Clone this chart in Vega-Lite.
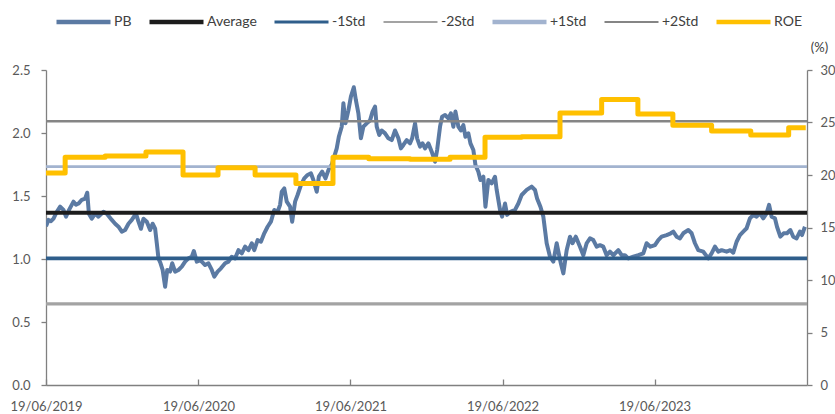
{
  "$schema": "https://vega.github.io/schema/vega-lite/v6.json",
  "width": 761,
  "height": 315,
  "autosize": {"type": "none"},
  "padding": {"left": 46, "top": 70, "right": 28, "bottom": 29},
  "background": "white",
  "config": {
    "view": {"stroke": null},
    "font": "Lato",
    "legend": {"title": null},
    "axis": {"labelFont": "Lato", "labelFontSize": 13, "labelColor": "#595959", "domainColor": "#808080", "tickColor": "#808080", "domainWidth": 1.3, "tickWidth": 1.3, "grid": false, "titleFont": "Lato"}
  },
  "datasets": {
    "pb": [
      {"d":"2019-06-19","pb":1.26},{"d":"2019-06-25","pb":1.31},{"d":"2019-07-01","pb":1.30},{"d":"2019-07-07","pb":1.32},{"d":"2019-07-15","pb":1.375},{"d":"2019-07-23","pb":1.415},{"d":"2019-07-31","pb":1.39},{"d":"2019-08-06","pb":1.336},{"d":"2019-08-14","pb":1.394},{"d":"2019-08-24","pb":1.455},{"d":"2019-08-30","pb":1.43},{"d":"2019-09-05","pb":1.44},{"d":"2019-09-13","pb":1.47},{"d":"2019-09-21","pb":1.48},{"d":"2019-09-26","pb":1.526},{"d":"2019-09-30","pb":1.36},{"d":"2019-10-07","pb":1.32},{"d":"2019-10-15","pb":1.36},{"d":"2019-10-23","pb":1.336},{"d":"2019-11-04","pb":1.375},{"d":"2019-11-12","pb":1.36},{"d":"2019-11-24","pb":1.31},{"d":"2019-12-02","pb":1.28},{"d":"2019-12-10","pb":1.256},{"d":"2019-12-18","pb":1.217},{"d":"2019-12-26","pb":1.23},
      {"d":"2020-01-03","pb":1.28},{"d":"2020-01-11","pb":1.31},{"d":"2020-01-21","pb":1.36},{"d":"2020-01-27","pb":1.296},{"d":"2020-02-02","pb":1.24},{"d":"2020-02-08","pb":1.32},{"d":"2020-02-16","pb":1.296},{"d":"2020-02-24","pb":1.23},{"d":"2020-03-01","pb":1.28},{"d":"2020-03-07","pb":1.24},{"d":"2020-03-11","pb":1.125},{"d":"2020-03-15","pb":1.005},{"d":"2020-03-20","pb":0.966},{"d":"2020-03-25","pb":0.913},{"d":"2020-03-31","pb":0.78},{"d":"2020-04-05","pb":0.913},{"d":"2020-04-12","pb":0.9},{"d":"2020-04-17","pb":0.966},{"d":"2020-04-24","pb":0.9},{"d":"2020-05-02","pb":0.913},{"d":"2020-05-10","pb":0.939},{"d":"2020-05-18","pb":0.979},{"d":"2020-05-26","pb":1.005},{"d":"2020-06-03","pb":1.018},{"d":"2020-06-08","pb":1.063},{"d":"2020-06-15","pb":0.979},{"d":"2020-06-23","pb":0.99},{"d":"2020-06-27","pb":0.979},{"d":"2020-07-05","pb":0.952},{"d":"2020-07-13","pb":0.966},{"d":"2020-07-21","pb":0.913},{"d":"2020-07-27","pb":0.86},{"d":"2020-08-04","pb":0.9},{"d":"2020-08-12","pb":0.926},{"d":"2020-08-22","pb":0.966},{"d":"2020-08-30","pb":0.979},{"d":"2020-09-07","pb":1.018},{"d":"2020-09-15","pb":1.005},{"d":"2020-09-23","pb":1.07},{"d":"2020-10-01","pb":1.045},{"d":"2020-10-09","pb":1.098},{"d":"2020-10-17","pb":1.07},{"d":"2020-10-25","pb":1.125},{"d":"2020-10-31","pb":1.07},{"d":"2020-11-08","pb":1.15},{"d":"2020-11-16","pb":1.137},{"d":"2020-11-24","pb":1.204},{"d":"2020-12-02","pb":1.256},{"d":"2020-12-10","pb":1.296},{"d":"2020-12-18","pb":1.389},{"d":"2020-12-26","pb":1.375},
      {"d":"2021-01-01","pb":1.43},{"d":"2021-01-05","pb":1.534},{"d":"2021-01-11","pb":1.56},{"d":"2021-01-17","pb":1.455},{"d":"2021-01-25","pb":1.415},{"d":"2021-01-30","pb":1.296},{"d":"2021-02-06","pb":1.455},{"d":"2021-02-12","pb":1.508},{"d":"2021-02-20","pb":1.587},{"d":"2021-02-28","pb":1.64},{"d":"2021-03-08","pb":1.667},{"d":"2021-03-16","pb":1.68},{"d":"2021-03-22","pb":1.627},{"d":"2021-03-30","pb":1.534},{"d":"2021-04-04","pb":1.653},{"d":"2021-04-12","pb":1.693},{"d":"2021-04-20","pb":1.64},{"d":"2021-04-27","pb":1.706},{"d":"2021-05-05","pb":1.75},{"d":"2021-05-11","pb":1.812},{"d":"2021-05-17","pb":1.878},{"d":"2021-05-22","pb":1.97},{"d":"2021-05-29","pb":2.05},{"d":"2021-06-02","pb":2.236},{"d":"2021-06-07","pb":2.077},{"d":"2021-06-14","pb":2.18},{"d":"2021-06-20","pb":2.288},{"d":"2021-06-27","pb":2.363},{"d":"2021-07-02","pb":2.26},{"d":"2021-07-08","pb":2.156},{"d":"2021-07-14","pb":1.958},{"d":"2021-07-20","pb":2.05},{"d":"2021-07-28","pb":2.077},{"d":"2021-08-05","pb":2.1},{"d":"2021-08-11","pb":2.17},{"d":"2021-08-17","pb":2.21},{"d":"2021-08-21","pb":2.05},{"d":"2021-08-27","pb":1.984},{"d":"2021-09-02","pb":2.02},{"d":"2021-09-10","pb":1.997},{"d":"2021-09-18","pb":1.958},{"d":"2021-09-26","pb":1.944},{"d":"2021-10-04","pb":2.02},{"d":"2021-10-12","pb":1.958},{"d":"2021-10-18","pb":1.878},{"d":"2021-10-24","pb":1.905},{"d":"2021-11-01","pb":1.944},{"d":"2021-11-09","pb":1.918},{"d":"2021-11-14","pb":1.958},{"d":"2021-11-21","pb":2.077},{"d":"2021-11-26","pb":1.958},{"d":"2021-12-03","pb":1.892},{"d":"2021-12-09","pb":1.918},{"d":"2021-12-15","pb":1.878},{"d":"2021-12-23","pb":1.918},{"d":"2021-12-31","pb":1.852},
      {"d":"2022-01-08","pb":1.772},{"d":"2022-01-13","pb":1.865},{"d":"2022-01-20","pb":2.05},{"d":"2022-01-25","pb":2.13},{"d":"2022-02-01","pb":2.143},{"d":"2022-02-09","pb":2.116},{"d":"2022-02-15","pb":2.156},{"d":"2022-02-21","pb":2.05},{"d":"2022-02-26","pb":2.17},{"d":"2022-03-05","pb":2.05},{"d":"2022-03-11","pb":2.02},{"d":"2022-03-17","pb":2.063},{"d":"2022-03-22","pb":1.97},{"d":"2022-03-29","pb":1.997},{"d":"2022-04-03","pb":1.918},{"d":"2022-04-10","pb":1.865},{"d":"2022-04-15","pb":1.746},{"d":"2022-04-22","pb":1.693},{"d":"2022-04-27","pb":1.627},{"d":"2022-05-04","pb":1.653},{"d":"2022-05-09","pb":1.415},{"d":"2022-05-16","pb":1.627},{"d":"2022-05-24","pb":1.6},{"d":"2022-06-01","pb":1.653},{"d":"2022-06-05","pb":1.548},{"d":"2022-06-13","pb":1.39},{"d":"2022-06-18","pb":1.336},{"d":"2022-06-25","pb":1.44},{"d":"2022-06-30","pb":1.35},{"d":"2022-07-08","pb":1.375},{"d":"2022-07-19","pb":1.39},{"d":"2022-07-27","pb":1.44},{"d":"2022-08-04","pb":1.508},{"d":"2022-08-16","pb":1.548},{"d":"2022-08-28","pb":1.574},{"d":"2022-09-05","pb":1.548},{"d":"2022-09-10","pb":1.48},{"d":"2022-09-18","pb":1.415},{"d":"2022-09-25","pb":1.336},{"d":"2022-10-03","pb":1.125},{"d":"2022-10-11","pb":1.018},{"d":"2022-10-19","pb":0.979},{"d":"2022-10-27","pb":1.125},{"d":"2022-11-01","pb":1.045},{"d":"2022-11-06","pb":0.966},{"d":"2022-11-12","pb":0.886},{"d":"2022-11-20","pb":1.07},{"d":"2022-11-28","pb":1.177},{"d":"2022-12-04","pb":1.125},{"d":"2022-12-12","pb":1.177},{"d":"2022-12-22","pb":1.098},{"d":"2022-12-30","pb":1.03},
      {"d":"2023-01-07","pb":1.125},{"d":"2023-01-15","pb":1.164},{"d":"2023-01-23","pb":1.15},{"d":"2023-01-31","pb":1.098},{"d":"2023-02-08","pb":1.11},{"d":"2023-02-16","pb":1.098},{"d":"2023-02-24","pb":1.03},{"d":"2023-03-04","pb":1.058},{"d":"2023-03-12","pb":1.03},{"d":"2023-03-24","pb":1.07},{"d":"2023-04-01","pb":1.03},{"d":"2023-04-09","pb":1.03},{"d":"2023-04-17","pb":1.005},{"d":"2023-04-29","pb":1.018},{"d":"2023-05-11","pb":1.03},{"d":"2023-05-23","pb":1.045},{"d":"2023-05-31","pb":1.125},{"d":"2023-06-09","pb":1.098},{"d":"2023-06-20","pb":1.11},{"d":"2023-06-28","pb":1.15},{"d":"2023-07-06","pb":1.177},{"d":"2023-07-18","pb":1.19},{"d":"2023-07-28","pb":1.204},{"d":"2023-08-03","pb":1.217},{"d":"2023-08-11","pb":1.177},{"d":"2023-08-19","pb":1.164},{"d":"2023-08-27","pb":1.204},{"d":"2023-09-08","pb":1.23},{"d":"2023-09-16","pb":1.204},{"d":"2023-09-24","pb":1.125},{"d":"2023-10-02","pb":1.07},{"d":"2023-10-14","pb":1.058},{"d":"2023-10-26","pb":1.005},{"d":"2023-11-03","pb":1.045},{"d":"2023-11-11","pb":1.098},{"d":"2023-11-19","pb":1.058},{"d":"2023-11-27","pb":1.07},{"d":"2023-12-09","pb":1.058},{"d":"2023-12-18","pb":1.07},{"d":"2023-12-25","pb":1.05},
      {"d":"2024-01-02","pb":1.137},{"d":"2024-01-10","pb":1.19},{"d":"2024-01-18","pb":1.217},{"d":"2024-01-26","pb":1.244},{"d":"2024-02-03","pb":1.323},{"d":"2024-02-11","pb":1.35},{"d":"2024-02-19","pb":1.336},{"d":"2024-02-27","pb":1.362},{"d":"2024-03-06","pb":1.323},{"d":"2024-03-14","pb":1.362},{"d":"2024-03-20","pb":1.43},{"d":"2024-03-26","pb":1.336},{"d":"2024-04-03","pb":1.323},{"d":"2024-04-08","pb":1.256},{"d":"2024-04-16","pb":1.177},{"d":"2024-04-24","pb":1.204},{"d":"2024-05-02","pb":1.204},{"d":"2024-05-10","pb":1.23},{"d":"2024-05-17","pb":1.177},{"d":"2024-05-25","pb":1.164},{"d":"2024-06-02","pb":1.217},{"d":"2024-06-07","pb":1.19},{"d":"2024-06-14","pb":1.256}
    ],
    "levels": [
      {"series":"Average","value":1.368},
      {"series":"-1Std","value":1.005},
      {"series":"-2Std","value":0.643},
      {"series":"+1Std","value":1.733},
      {"series":"+2Std","value":2.093}
    ],
    "roe": [
      {"d":"2019-06-19","roe":20.2},{"d":"2019-08-04","roe":21.7},{"d":"2019-11-08","roe":21.8},{"d":"2020-02-14","roe":22.2},{"d":"2020-05-13","roe":20.0},{"d":"2020-08-05","roe":20.7},{"d":"2020-11-02","roe":20.0},{"d":"2021-02-08","roe":19.2},{"d":"2021-05-08","roe":21.7},{"d":"2021-08-02","roe":21.55},{"d":"2021-11-09","roe":21.5},{"d":"2022-02-13","roe":21.7},{"d":"2022-05-08","roe":23.6},{"d":"2022-08-04","roe":23.65},{"d":"2022-11-04","roe":25.9},{"d":"2023-02-12","roe":27.2},{"d":"2023-05-10","roe":25.8},{"d":"2023-08-02","roe":24.75},{"d":"2023-11-03","roe":24.2},{"d":"2024-02-05","roe":23.8},{"d":"2024-05-06","roe":24.5},{"d":"2024-06-16","roe":24.5}
    ]
  },
  "resolve": {"scale": {"y": "independent"}},
  "layer": [
    {
      "layer": [
        {
          "data": {"name": "pb"},
          "mark": {"type": "line", "strokeWidth": 4, "strokeJoin": "round", "clip": true},
          "encoding": {
            "x": {"field": "d", "type": "temporal", "title": null,
              "scale": {"type": "utc", "domain": [{"year":2019,"month":6,"date":19,"utc":true},{"year":2024,"month":6,"date":19,"utc":true}]},
              "axis": {"values": [{"year":2019,"month":6,"date":19,"utc":true},{"year":2020,"month":6,"date":19,"utc":true},{"year":2021,"month":6,"date":19,"utc":true},{"year":2022,"month":6,"date":19,"utc":true},{"year":2023,"month":6,"date":19,"utc":true}],
                "format": "%d/%m/%Y", "tickSize": -6, "labelPadding": 21, "labelFlush": false, "labelOverlap": false}},
            "y": {"field": "pb", "type": "quantitative", "title": null,
              "scale": {"domain": [0, 2.5], "nice": false, "zero": false},
              "axis": {"orient": "left", "values": [0, 0.5, 1, 1.5, 2, 2.5], "format": ".1f", "tickSize": 5, "labelPadding": 11}},
            "color": {"datum": "PB", "type": "nominal",
              "scale": {"domain": ["PB","Average","-1Std","-2Std","+1Std","+2Std","ROE"], "range": ["#5b7aa3","#1c1c1c","#2f5e8b","#a3a3a3","#a2b3cf","#858585","#ffc000"]},
              "legend": {"orient": "none", "legendX": 8, "legendY": -56, "direction": "horizontal", "title": null,
                "symbolType": "stroke", "symbolSize": 2916, "clipHeight": 16, "labelFont": "Lato", "labelFontSize": 14, "labelColor": "#404040",
                "labelOffset": 1, "columnPadding": 15,
                "encode": {"symbols": {"update": {"strokeWidth": {"signal": "(datum.value==='-2Std'||datum.value==='+2Std'?2:(datum.value==='-1Std'?3:4.5))"}}}}}}
          }
        },
        {
          "data": {"name": "levels"},
          "mark": {"type": "rule"},
          "encoding": {
            "y": {"field": "value", "type": "quantitative", "title": null},
            "color": {"field": "series", "type": "nominal", "title": null},
            "strokeWidth": {"field": "series", "type": "nominal", "legend": null,
              "scale": {"domain": ["Average","-1Std","-2Std","+1Std","+2Std"], "range": [4, 2.5, 2, 4, 2]}}
          }
        }
      ]
    },
    {
      "data": {"name": "roe"},
      "mark": {"type": "line", "interpolate": "step-after", "strokeWidth": 5, "strokeJoin": "round"},
      "encoding": {
        "x": {"field": "d", "type": "temporal"},
        "y": {"field": "roe", "type": "quantitative",
          "scale": {"domain": [0, 30], "nice": false, "zero": false},
          "axis": {"orient": "right", "values": [0, 5, 10, 15, 20, 25, 30], "format": "d", "tickSize": 5, "labelPadding": 8,
            "title": "(%)", "titleAngle": 0, "titleX": 12, "titleY": -16, "titleAlign": "center", "titleBaseline": "bottom",
            "titleFontSize": 13, "titleFontWeight": "normal", "titleColor": "#404040"}},
        "color": {"datum": "ROE", "type": "nominal"}
      }
    }
  ]
}
